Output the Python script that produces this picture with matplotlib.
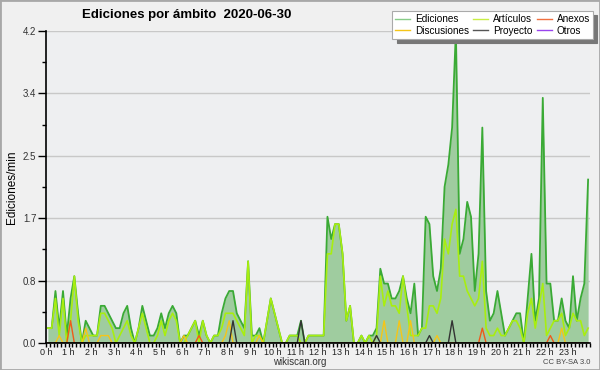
import numpy as np
import matplotlib
matplotlib.use("Agg")
import matplotlib.pyplot as plt
from matplotlib.patches import Rectangle
from matplotlib.ticker import FixedLocator, MultipleLocator

plt.rcParams["font.family"] = ["Liberation Sans", "DejaVu Sans"]

# edits per minute, 10-minute bins (6 per hour)
ediciones = [
    0.2, 0.2, 0.7, 0.2, 0.7, 0.1,   # 0 h
    0.6, 0.9, 0.4, 0.0, 0.3, 0.2,   # 1 h
    0.1, 0.1, 0.5, 0.5, 0.4, 0.3,   # 2 h
    0.2, 0.2, 0.4, 0.5, 0.2, 0.0,   # 3 h
    0.2, 0.5, 0.3, 0.1, 0.1, 0.2,   # 4 h
    0.4, 0.2, 0.4, 0.5, 0.4, 0.0,   # 5 h
    0.1, 0.1, 0.2, 0.3, 0.1, 0.3,   # 6 h
    0.1, 0.0, 0.1, 0.1, 0.4, 0.6,   # 7 h
    0.7, 0.7, 0.4, 0.3, 0.2, 1.1,   # 8 h
    0.1, 0.1, 0.2, 0.0, 0.3, 0.6,   # 9 h
    0.4, 0.2, 0.0, 0.0, 0.1, 0.1,   # 10 h
    0.1, 0.3, 0.0, 0.1, 0.1, 0.1,   # 11 h
    0.1, 0.1, 1.7, 1.4, 1.6, 1.6,   # 12 h
    1.2, 0.3, 0.5, 0.0, 0.0, 0.1,   # 13 h
    0.0, 0.1, 0.1, 0.2, 1.0, 0.8,   # 14 h
    0.8, 0.6, 0.6, 0.7, 0.9, 0.6,   # 15 h
    0.4, 0.8, 0.1, 0.2, 1.7, 1.6,   # 16 h
    0.9, 0.7, 1.0, 2.1, 2.4, 2.9,   # 17 h
    4.2, 1.2, 1.4, 1.9, 1.7, 0.7,   # 18 h
    1.2, 2.9, 0.7, 0.3, 0.4, 0.7,   # 19 h
    0.4, 0.1, 0.2, 0.3, 0.4, 0.4,   # 20 h
    0.0, 0.6, 1.2, 0.3, 0.6, 3.3,   # 21 h
    0.8, 0.8, 0.3, 0.3, 0.6, 0.3,   # 22 h
    0.2, 0.9, 0.3, 0.6, 0.8, 2.2,   # 23 h
]
articulos = [
    0.2, 0.2, 0.6, 0.1, 0.6, 0.0,
    0.3, 0.9, 0.3, 0.0, 0.1, 0.1,
    0.1, 0.1, 0.4, 0.4, 0.3, 0.2,
    0.0, 0.1, 0.2, 0.3, 0.1, 0.0,
    0.2, 0.4, 0.2, 0.0, 0.0, 0.1,
    0.3, 0.1, 0.3, 0.4, 0.3, 0.0,
    0.0, 0.1, 0.2, 0.3, 0.0, 0.3,
    0.1, 0.0, 0.1, 0.1, 0.2, 0.4,
    0.4, 0.4, 0.3, 0.2, 0.1, 1.1,
    0.0, 0.1, 0.1, 0.0, 0.3, 0.6,
    0.4, 0.2, 0.0, 0.0, 0.1, 0.1,
    0.1, 0.0, 0.0, 0.1, 0.1, 0.1,
    0.1, 0.1, 1.2, 1.2, 1.6, 1.6,
    1.2, 0.3, 0.5, 0.0, 0.0, 0.1,
    0.0, 0.1, 0.0, 0.1, 0.9, 0.5,
    0.7, 0.5, 0.5, 0.4, 0.9, 0.5,
    0.1, 0.1, 0.1, 0.2, 0.2, 0.5,
    0.5, 0.4, 0.6, 1.4, 1.2, 1.6,
    1.8, 0.9, 0.9, 0.7, 0.6, 0.5,
    0.6, 1.1, 0.2, 0.1, 0.1, 0.2,
    0.1, 0.1, 0.2, 0.3, 0.3, 0.2,
    0.0, 0.4, 0.6, 0.2, 0.5, 0.8,
    0.1, 0.2, 0.3, 0.3, 0.4, 0.1,
    0.2, 0.4, 0.3, 0.3, 0.1, 0.2,
]
# sparse series: {bin index: value}
discusiones_pts = {3: 0.1, 10: 0.2, 14: 0.1, 15: 0.1, 16: 0.1, 36: 0.1,
                   47: 0.1, 48: 0.3, 56: 0.1, 89: 0.3, 93: 0.3, 96: 0.3,
                   103: 0.1, 136: 0.2}
anexos_pts = {6: 0.3, 40: 0.1, 115: 0.2, 133: 0.1}
proyecto_pts = {49: 0.3, 67: 0.3, 87: 0.1, 101: 0.1, 107: 0.3}
otros_pts = {}

hour_labels = [f"{h} h" for h in range(24)]
y_ticks = [0.0, 0.84, 1.68, 2.52, 3.36, 4.2]


def sparse(pts, n=144):
    v = np.zeros(n)
    for k, val in pts.items():
        v[k] = val
    return v


n = len(ediciones)
t = (np.arange(n) + 0.5) / 6.0          # bin centres, hours
E = np.array(ediciones)
A = np.array(articulos)
D = sparse(discusiones_pts)
X = sparse(anexos_pts)
P = sparse(proyecto_pts)
O = sparse(otros_pts)

fig = plt.figure(figsize=(6.0, 3.7), dpi=100, facecolor="#f0f0f0")
ax = fig.add_axes([46/600, 1 - 343/370, 544/600, 312/370])
ax.set_facecolor("#eeeff1")

ax.fill_between(t, 0, E, color="#9fcc9f", linewidth=0, zorder=1)
ax.plot(t, O, color="#9944ee", linewidth=1, zorder=1.5)
ax.plot(t, E, color="#3aaa35", linewidth=1.3, zorder=2)
ax.plot(t, A, color="#a8ee10", linewidth=1.2, zorder=2.1)
ax.plot(t, D, color="#f5c518", linewidth=1, zorder=2.2)
ax.plot(t, X, color="#ee5a1a", linewidth=1, zorder=2.3)
ax.plot(t, P, color="#333333", linewidth=1, zorder=2.4)

ax.set_xlim(0, 24)
ax.set_ylim(0, 4.2)

for s in ("top", "right"):
    ax.spines[s].set_visible(False)
for s in ("left", "bottom"):
    ax.spines[s].set_color("black")
    ax.spines[s].set_linewidth(1.2)

ax.set_xticks(range(24))
ax.set_xticklabels(hour_labels)
ax.xaxis.set_minor_locator(MultipleLocator(1/6))
ax.tick_params(axis="x", which="both", direction="out", length=3,
               width=1, pad=0.5, labelsize=6.5, labelcolor="#222")

ax.yaxis.set_major_locator(FixedLocator(y_ticks))
ax.set_yticklabels([f"{v:.1f}" for v in y_ticks])
ax.yaxis.set_minor_locator(FixedLocator([0.42, 1.26, 2.10, 2.94, 3.78]))
ax.tick_params(axis="y", which="major", direction="out", length=6,
               width=1, pad=1, labelsize=7, labelcolor="#333")
ax.tick_params(axis="y", which="minor", direction="out", length=3, width=1)
ax.grid(axis="y", which="major", color="#c8c8c8", linewidth=1)
ax.set_axisbelow(True)

ax.set_ylabel("Ediciones/min", fontsize=8.5)
ax.yaxis.set_label_coords(-0.052, 0.5)

fig.text(187/600, 1 - 15/370, "Ediciones por ámbito  2020-06-30",
         ha="center", va="center", fontsize=9.5, fontweight="bold")
fig.text(300/600, 1 - 362/370, "wikiscan.org", ha="center", va="center",
         fontsize=7, color="#333")
fig.text(590/600, 1 - 362/370, "CC BY-SA 3.0", ha="right", va="center",
         fontsize=5.5, color="#444")

handles = [
    plt.Line2D([], [], color="#88cc88", lw=1),
    plt.Line2D([], [], color="#f5c518", lw=1),
    plt.Line2D([], [], color="#c8ee44", lw=1),
    plt.Line2D([], [], color="#555555", lw=1),
    plt.Line2D([], [], color="#f07040", lw=1),
    plt.Line2D([], [], color="#9944ee", lw=1),
]
labels = ["Ediciones", "Discusiones", "Artículos", "Proyecto", "Anexos", "Otros"]
leg = fig.legend(handles, labels, ncol=3, loc="upper right",
                 bbox_to_anchor=(593/600, 1 - 11/370), fontsize=7.2,
                 frameon=True, fancybox=False,
                 shadow={"color": "#777", "alpha": 1, "ox": 3, "oy": -3},
                 handlelength=1.5, handletextpad=0.5, columnspacing=0.4,
                 labelspacing=0.15, borderpad=0.3, borderaxespad=0)
leg.get_frame().set_edgecolor("#aaaaaa")
leg.get_frame().set_facecolor("white")
leg.get_frame().set_linewidth(0.8)

fig.patches.append(Rectangle((0, 0), 1, 1, transform=fig.transFigure,
                             fill=False, edgecolor="#a8a8a8", linewidth=2))

fig.savefig("out.png", dpi=100, facecolor=fig.get_facecolor())
